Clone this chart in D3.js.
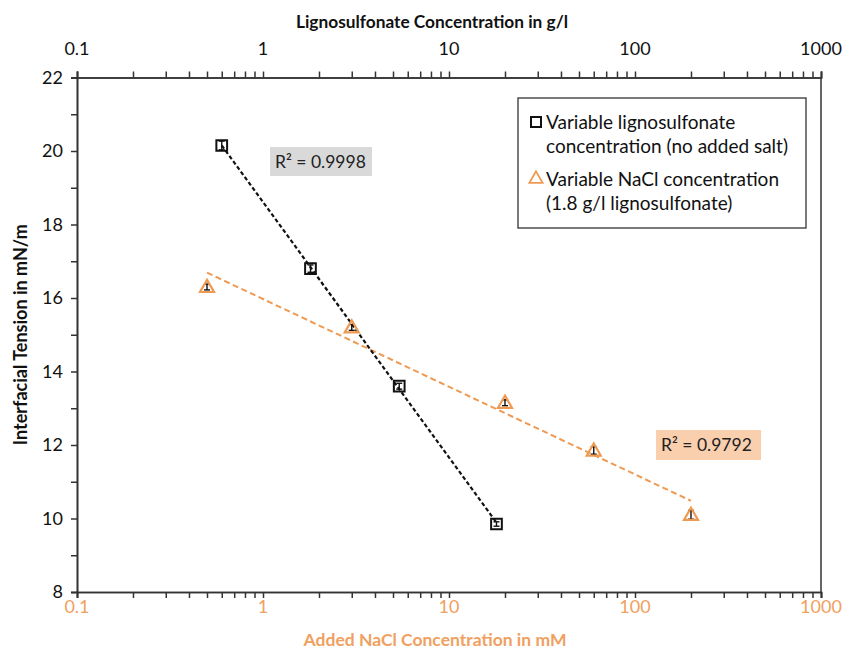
<!DOCTYPE html>
<html>
<head>
<meta charset="utf-8">
<script src="https://cdn.jsdelivr.net/npm/d3@7"></script>
<style>
  html, body { margin: 0; padding: 0; background: #fff; }
  svg { display: block; font-family: Lato, "Open Sans", sans-serif; }
</style>
</head>
<body>
<svg id="chart" width="845" height="652"></svg>
<script>
// Lignosulfonate series: concentration in g/l (top axis) vs interfacial tension
const lignoConc = [0.6, 1.8, 5.4, 18];
const lignoTension = [20.15, 16.8, 13.6, 9.85];
const lignoError = [0.12, 0.1, 0.08, 0.06];

// NaCl series: added NaCl in mM (bottom axis), 1.8 g/l lignosulfonate
const naclConc = [0.5, 3, 20, 60, 200];
const naclTension = [16.3, 15.2, 13.15, 11.85, 10.1];
const naclError = [0.08, 0.08, 0.08, 0.1, 0.12];

const xTickValues = [0.1, 1, 10, 100, 1000];
const xTickLabels = ["0.1", "1", "10", "100", "1000"];
const yTickValues = [8, 10, 12, 14, 16, 18, 20, 22];
const yMinorValues = [9, 11, 13, 15, 17, 19, 21];

const legendLabels = [
  ["Variable lignosulfonate", "concentration (no added salt)"],
  ["Variable NaCl concentration", "(1.8 g/l lignosulfonate)"]
];
const r2Labels = ["R\u00B2 = 0.9998", "R\u00B2 = 0.9792"];

const ORANGE = "#EF9A52";
const ORANGE_TEXT = "#F0A060";
const AXIS = "#333";

const svg = d3.select("#chart");
const plotLeft = 77, plotRight = 821, plotTop = 77.5, plotBottom = 592;

const xBottom = d3.scaleLog().domain([0.1, 1000]).range([plotLeft, plotRight]);
const xTop = d3.scaleLog().domain([0.1, 1000]).range([plotLeft, plotRight]);
const y = d3.scaleLinear().domain([8, 22]).range([plotBottom, plotTop]);

// minor ticks for each decade (2..9)
const minorX = [];
for (let d = 0.1; d < 1000; d *= 10) {
  for (let k = 2; k <= 9; k++) minorX.push(+(d * k).toPrecision(3));
}

// ---- axes ----
const gBottom = svg.append("g").attr("transform", `translate(0,${plotBottom})`);
gBottom.call(d3.axisBottom(xBottom).tickValues(minorX).tickSize(6).tickFormat(""));
gBottom.append("g").call(d3.axisBottom(xBottom).tickValues(xTickValues).tickSize(6).tickFormat(""));

const gTop = svg.append("g").attr("transform", `translate(0,${plotTop})`);
gTop.call(d3.axisTop(xTop).tickValues(minorX).tickSize(6).tickFormat(""));
gTop.append("g").call(d3.axisTop(xTop).tickValues(xTickValues).tickSize(6).tickFormat(""));

const gLeft = svg.append("g").attr("transform", `translate(${plotLeft},0)`);
gLeft.call(d3.axisLeft(y).tickValues(yMinorValues).tickSize(6).tickFormat(""));
gLeft.append("g").call(d3.axisLeft(y).tickValues(yTickValues).tickSize(6).tickFormat(""));

svg.append("line")
  .attr("x1", plotRight).attr("x2", plotRight).attr("y1", plotTop).attr("y2", plotBottom);

svg.selectAll(".domain, .tick line, line")
  .attr("stroke", AXIS).attr("stroke-width", 1.5);
svg.selectAll(".domain").attr("stroke-width", 1.6);

// tick labels
svg.append("g").selectAll("text").data(xTickValues).join("text")
  .attr("x", d => xTop(d)).attr("y", 55)
  .attr("text-anchor", "middle").attr("font-size", 18).attr("fill", "#111")
  .text((d, i) => xTickLabels[i]);

svg.append("g").selectAll("text").data(xTickValues).join("text")
  .attr("x", d => xBottom(d)).attr("y", 613)
  .attr("text-anchor", "middle").attr("font-size", 18).attr("fill", ORANGE_TEXT)
  .text((d, i) => xTickLabels[i]);

svg.append("g").selectAll("text").data(yTickValues).join("text")
  .attr("x", 63).attr("y", d => y(d)).attr("dy", "0.35em")
  .attr("text-anchor", "end").attr("font-size", 18).attr("fill", "#111")
  .text(d => d);

// axis titles
svg.append("text").attr("x", 432).attr("y", 28)
  .attr("text-anchor", "middle").attr("font-size", 17.3).attr("font-weight", "bold")
  .attr("fill", "#111").text("Lignosulfonate Concentration in g/l");

svg.append("text").attr("x", 435).attr("y", 646)
  .attr("text-anchor", "middle").attr("font-size", 17.5).attr("font-weight", "bold")
  .attr("fill", ORANGE_TEXT).text("Added NaCl Concentration in mM");

svg.append("text")
  .attr("transform", `translate(27,${(plotTop + plotBottom) / 2}) rotate(-90)`)
  .attr("text-anchor", "middle").attr("font-size", 18).attr("font-weight", "bold")
  .attr("fill", "#111").text("Interfacial Tension in mN/m");

// ---- logarithmic trend lines (least squares in log10 x) ----
function logFit(xs, ys) {
  const lx = xs.map(Math.log10);
  const mx = d3.mean(lx), my = d3.mean(ys);
  let sxy = 0, sxx = 0;
  lx.forEach((v, i) => { sxy += (v - mx) * (ys[i] - my); sxx += (v - mx) ** 2; });
  const slope = sxy / sxx;
  return x => my + slope * (Math.log10(x) - mx);
}

const lignoFit = logFit(lignoConc, lignoTension);
const naclFit = logFit(naclConc, naclTension);
const line = d3.line();

svg.append("path")
  .attr("d", line(d3.extent(naclConc).map(c => [xBottom(c), y(naclFit(c))])))
  .attr("fill", "none").attr("stroke", ORANGE).attr("stroke-width", 2)
  .attr("stroke-dasharray", "6,3.5");

svg.append("path")
  .attr("d", line(d3.extent(lignoConc).map(c => [xTop(c), y(lignoFit(c))])))
  .attr("fill", "none").attr("stroke", "#111").attr("stroke-width", 2.2)
  .attr("stroke-dasharray", "4,2.5");

// ---- error bars ----
function errorBars(xs, ys, es, xScale) {
  const g = svg.append("g").attr("stroke", "#111").attr("stroke-width", 1.4);
  xs.forEach((c, i) => {
    const cx = xScale(c);
    const y1 = y(ys[i] - es[i]), y2 = y(ys[i] + es[i]);
    g.append("line").attr("x1", cx).attr("x2", cx).attr("y1", y1).attr("y2", y2);
    g.append("line").attr("x1", cx - 3).attr("x2", cx + 3).attr("y1", y1).attr("y2", y1);
    g.append("line").attr("x1", cx - 3).attr("x2", cx + 3).attr("y1", y2).attr("y2", y2);
  });
}
errorBars(lignoConc, lignoTension, lignoError, xTop);
errorBars(naclConc, naclTension, naclError, xBottom);

// ---- markers ----
const square = d3.symbol().type(d3.symbolSquare).size(115);
const triangle = d3.symbol().type(d3.symbolTriangle).size(85);

svg.append("g").selectAll("path").data(lignoConc).join("path")
  .attr("d", square)
  .attr("transform", (d, i) => `translate(${xTop(d)},${y(lignoTension[i])})`)
  .attr("fill", "none").attr("stroke", "#111").attr("stroke-width", 2);

svg.append("g").selectAll("path").data(naclConc).join("path")
  .attr("d", triangle)
  .attr("transform", (d, i) => `translate(${xBottom(d)},${y(naclTension[i]) + 1})`)
  .attr("fill", "none").attr("stroke", ORANGE).attr("stroke-width", 2.2);

// ---- R² labels ----
function r2Box(x, yTop, w, h, fill, label) {
  svg.append("rect").attr("x", x).attr("y", yTop).attr("width", w).attr("height", h)
    .attr("fill", fill);
  svg.append("text").attr("x", x + 5).attr("y", yTop + h / 2).attr("dy", "0.36em")
    .attr("font-size", 17.5).attr("fill", "#222").text(label);
}
r2Box(270, 147, 102, 29, "#D9D9D9", r2Labels[0]);
r2Box(656, 430, 105, 30, "#F9CFAE", r2Labels[1]);

// ---- legend ----
const legend = svg.append("g");
legend.append("rect").attr("x", 518).attr("y", 98).attr("width", 288).attr("height", 130)
  .attr("fill", "#fff").attr("stroke", AXIS).attr("stroke-width", 1.3);
legend.append("path").attr("d", d3.symbol().type(d3.symbolSquare).size(100))
  .attr("transform", "translate(536,122)")
  .attr("fill", "none").attr("stroke", "#111").attr("stroke-width", 2);
legend.append("path").attr("d", d3.symbol().type(d3.symbolTriangle).size(75))
  .attr("transform", "translate(536,179)")
  .attr("fill", "none").attr("stroke", ORANGE).attr("stroke-width", 1.8);
const legendRows = [[122, 146], [179, 203]];
legendLabels.forEach((lines, i) => {
  lines.forEach((t, j) => {
    legend.append("text").attr("x", 546).attr("y", legendRows[i][j]).attr("dy", "0.36em")
      .attr("font-size", 19).attr("fill", "#111").text(t);
  });
});
</script>
</body>
</html>
